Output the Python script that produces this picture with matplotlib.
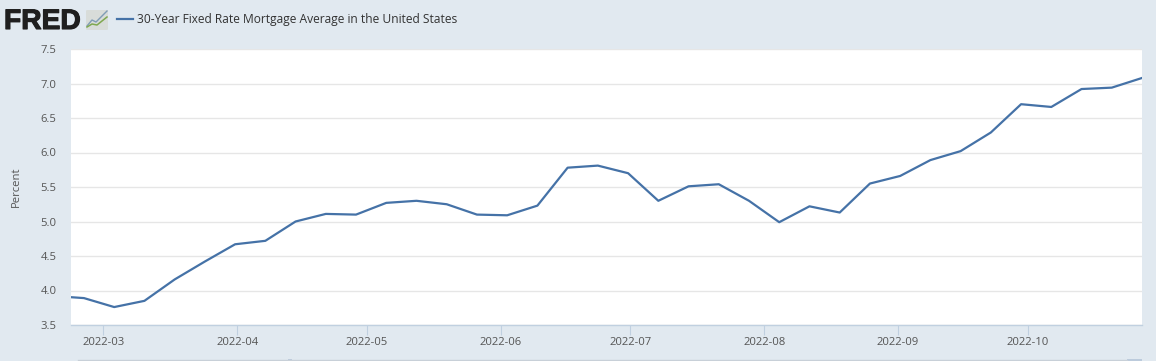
import matplotlib
matplotlib.use("Agg")
import matplotlib.pyplot as plt
import matplotlib.patheffects as pe
from matplotlib.patches import FancyBboxPatch, Rectangle
from matplotlib.lines import Line2D
import pandas as pd

W, H = 1156, 361
BG = "#e1e9f0"
LINE = "#4572a7"
TXT = "#555555"

dates = pd.to_datetime([
    "2022-02-17", "2022-02-24", "2022-03-03", "2022-03-10", "2022-03-17", "2022-03-24",
    "2022-03-31", "2022-04-07", "2022-04-14", "2022-04-21", "2022-04-28", "2022-05-05",
    "2022-05-12", "2022-05-19", "2022-05-26", "2022-06-02", "2022-06-09", "2022-06-16",
    "2022-06-23", "2022-06-30", "2022-07-07", "2022-07-14", "2022-07-21", "2022-07-28",
    "2022-08-04", "2022-08-11", "2022-08-18", "2022-08-25", "2022-09-01", "2022-09-08",
    "2022-09-15", "2022-09-22", "2022-09-29", "2022-10-06", "2022-10-13", "2022-10-20",
    "2022-10-27"])
rates = [3.92, 3.89, 3.76, 3.85, 4.16, 4.42, 4.67, 4.72, 5.00, 5.11, 5.10, 5.27, 5.30,
         5.25, 5.10, 5.09, 5.23, 5.78, 5.81, 5.70, 5.30, 5.51, 5.54, 5.30, 4.99, 5.22,
         5.13, 5.55, 5.66, 5.89, 6.02, 6.29, 6.70, 6.66, 6.92, 6.94, 7.08]
y_ticks = [3.5, 4.0, 4.5, 5.0, 5.5, 6.0, 6.5, 7.0, 7.5]
month_labels = ["2022-03", "2022-04", "2022-05", "2022-06", "2022-07", "2022-08", "2022-09", "2022-10"]
series_name = "30-Year Fixed Rate Mortgage Average in the United States"
y_label = "Percent"

plt.rcParams["font.family"] = ["Open Sans", "DejaVu Sans"]
fig = plt.figure(figsize=(W / 100, H / 100), dpi=100, facecolor=BG)
ax = fig.add_axes([71 / W, 1 - 325 / H, (1142 - 71) / W, (325 - 49) / H], facecolor="white")

ax.plot(dates, rates, color=LINE, lw=1.6, solid_joinstyle="round", zorder=3)
ax.set_xlim(pd.Timestamp("2022-02-21"), pd.Timestamp("2022-10-27"))
ax.set_ylim(3.5, 7.5)
ax.set_yticks(y_ticks)
ax.set_yticklabels([f"{v:.1f}" for v in y_ticks])
# The source places its month ticks half a day ahead of the weekly points
ax.set_xticks(pd.to_datetime([m + "-01" for m in month_labels]) - pd.Timedelta(hours=12))
ax.set_xticklabels(month_labels)
ax.grid(axis="y", color="#e6e6e6", lw=1)
ax.set_axisbelow(True)
for s in ("top", "right", "left"):
    ax.spines[s].set_visible(False)
ax.spines["bottom"].set_color("#c0d0e0")
ax.spines["bottom"].set_linewidth(1)
ax.tick_params(axis="x", length=7.5, width=0.8, color="#c0d0e0", labelsize=8.1,
               labelcolor=TXT, pad=1.2)
ax.tick_params(axis="y", length=0, labelsize=8.1, labelcolor=TXT, pad=10.5)
ax.set_ylabel(y_label, fontsize=8.1, color=TXT)
ax.yaxis.set_label_coords((21.5 - 71) / (1142 - 71), 0.5)

# Header: logo and legend
fig.text(4 / W, 1 - 29 / H, "FRED", fontsize=20.3, fontweight="bold", color="#1f1f1f",
         family="Liberation Sans", va="baseline", ha="left",
         path_effects=[pe.withStroke(linewidth=0.8, foreground="#1f1f1f")])
fig.add_artist(FancyBboxPatch((86 / W, 1 - 30 / H), 22 / W, 20 / H, transform=fig.transFigure,
                              boxstyle="round,pad=0,rounding_size=0.002", fc="#d8dcd9", ec="none"))
fig.add_artist(Line2D([87 / W, 92 / W, 96 / W, 101 / W, 107 / W],
                      [1 - 26 / H, 1 - 20 / H, 1 - 22 / H, 1 - 17 / H, 1 - 11 / H],
                      color="#7f9cb5", lw=1.0))
fig.add_artist(Line2D([87 / W, 92 / W, 97 / W, 102 / W, 107 / W],
                      [1 - 27 / H, 1 - 24 / H, 1 - 25 / H, 1 - 21 / H, 1 - 17 / H],
                      color="#7fa850", lw=1.1))
fig.add_artist(Line2D([117 / W, 133 / W], [1 - 19 / H] * 2, color=LINE, lw=1.6))
fig.text(137 / W, 1 - 19.5 / H, series_name, fontsize=8.67, color="#333333",
         va="center", ha="left")

# Faint navigator edge at the bottom of the frame
fig.add_artist(Line2D([78 / W, 1127 / W], [1 - 359.5 / H] * 2, color="#c8d0d8", lw=1))
fig.add_artist(Rectangle((1127 / W, 0), 15 / W, 2 / H, transform=fig.transFigure,
                         fc="#bccbdc", ec="none"))
fig.add_artist(Rectangle((288 / W, 0), 4 / W, 2 / H, transform=fig.transFigure,
                         fc="#bccbdc", ec="none"))

fig.savefig("out.png", dpi=100, facecolor=BG)
